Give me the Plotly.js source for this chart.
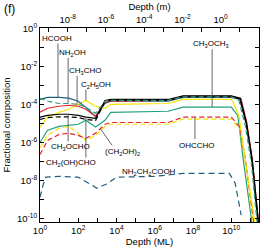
<!DOCTYPE html>
<html><head><meta charset="utf-8">
<script src="https://cdn.plot.ly/plotly-3.0.1.min.js"></script>
<style>html,body{margin:0;padding:0;background:#fff}#chart{width:266px;height:250px}</style>
</head><body><div id="chart"></div>
<script>
// Depth grid (monolayers) shared by the early part of every curve
const depthML = [1, 2.5, 10, 31.6, 100, 250, 800, 2500, 5000, 5e6, 3e7, 1e10];

const hcoohFrac   = [1.8e-4, 2.3e-4, 2.3e-4, 2.1e-4, 1.45e-4, 6.9e-5, 2.3e-5, 1.1e-4, 1.45e-4, 1.45e-4, 2.3e-4, 2.3e-4];
const hcoohTailML = [2.8e10, 6.3e10, 1.26e11, 2.6e11];
const hcoohTail   = [1.8e-4, 8e-6, 8e-8, 3e-11];

const nh2ohFrac   = [2.1e-4, 1.45e-4, 1.1e-4, 1.1e-4, 1e-4, 6.9e-5, 3.4e-5, 1.45e-4, 1.6e-4, 1.6e-4, 2.5e-4, 2.5e-4];
const nh2ohTailML = [2.5e10, 5.6e10, 1.12e11, 2.4e11];
const nh2ohTail   = [1.6e-4, 6.3e-6, 8e-8, 3e-11];

const ch3choFrac   = [3.8e-5, 6.2e-5, 7.9e-5, 8.9e-5, 7.9e-5, 5.5e-5, 2.3e-5, 1.26e-4, 1.45e-4, 1.6e-4, 2.6e-4, 2.6e-4];
const ch3choTailML = [3.2e10, 6.3e10, 1.26e11, 2.8e11];
const ch3choTail   = [2e-4, 1.25e-5, 1.25e-7, 4e-11];

const c2h5ohFrac   = [6.3e-6, 2.1e-5, 3.8e-5, 5.5e-5, 1e-4, 1.6e-4, 7.9e-5, 6.2e-5, 1e-4, 1.1e-4, 1.8e-4, 1.8e-4];
const c2h5ohTailML = [1.26e10, 2.5e10, 5.5e10, 1.8e11];
const c2h5ohTail   = [1.25e-4, 2.5e-5, 1.1e-7, 4e-11];

const ch3och3Frac   = [1e-6, 4.3e-6, 6.9e-6, 7.9e-6, 8.9e-6, 1.45e-5, 6.3e-6, 1.45e-5, 3.8e-5, 4.3e-5, 7.1e-5, 7.1e-5];
const ch3och3TailML = [2.2e10, 4.3e10, 1.26e11];
const ch3och3Tail   = [2.5e-5, 1.1e-7, 4e-11];

const ch3ochoFrac   = [2.1e-5, 2.6e-5, 3e-5, 3e-5, 2.6e-5, 2.1e-5, 1.8e-5, 1.6e-4, 1.8e-4, 1.8e-4, 2.8e-4, 2.8e-4];
const ch3ochoTailML = [2.95e10, 6.3e10, 1.26e11, 2.8e11];
const ch3ochoTail   = [2.1e-4, 1e-5, 1.1e-7, 3e-11];

const glycolFrac   = [1.6e-5, 2e-5, 2.2e-5, 2.2e-5, 2e-5, 1.6e-5, 1.4e-5, 1.4e-4, 1.6e-4, 1.6e-4, 2.5e-4, 2.5e-4];
const glycolTailML = [2.8e10, 6e10, 1.2e11, 2.7e11];
const glycolTail   = [1.9e-4, 1e-5, 1.1e-7, 3e-11];

const ethgFrac   = [2.3e-7, 1.26e-6, 2.6e-6, 3e-6, 2.3e-6, 1.6e-6, 3e-6, 8.9e-6, 1.1e-5, 1.1e-5, 2.1e-5, 2.1e-5];
const ethgTailML = [2.8e10, 5.6e10, 1.6e11];
const ethgTail   = [6.3e-6, 1.1e-7, 4e-11];

const ohcchoFrac   = [5e-7, 2.3e-6, 5.5e-6, 6.9e-6, 3e-6, 1.26e-6, 2.3e-6, 6.9e-6, 8.9e-6, 8.9e-6, 1.66e-5, 1.66e-5];
const ohcchoTailML = [2.8e10, 5.2e10, 1.5e11];
const ohcchoTail   = [5e-6, 1.1e-7, 4e-11];

const glyDepthML = [1, 1.4, 2, 10, 100, 300, 950, 3000, 1e4, 1e6, 3e7, 8e9, 1.6e10, 3.3e10];
const glyFrac    = [1.26e-9, 5e-9, 1.45e-8, 1.6e-8, 1.45e-8, 7.9e-9, 3.8e-9, 6.3e-9, 1.45e-8, 1.6e-8, 2.3e-8, 2.3e-8, 6.9e-9, 1.45e-10];

// Tick labels
const mlTickVals = [1,1e1,1e2,1e3,1e4,1e5,1e6,1e7,1e8,1e9,1e10,1e11];
const mlTickText = ['10<sup>0</sup>','','10<sup>2</sup>','','10<sup>4</sup>','','10<sup>6</sup>','','10<sup>8</sup>','','10<sup>10</sup>',''];
const mTickVals = [1e-9,1e-8,1e-7,1e-6,1e-5,1e-4,1e-3,1e-2,1e-1,1,1e1,1e2];
const mTickText = ['','10<sup>-8</sup>','','10<sup>-6</sup>','','10<sup>-4</sup>','','10<sup>-2</sup>','','10<sup>0</sup>','','10<sup>2</sup>'];
const fracTickVals = [1e-10,1e-9,1e-8,1e-7,1e-6,1e-5,1e-4,1e-3,1e-2,1e-1,1];
const fracTickText = ['10<sup>-10</sup>','','10<sup>-8</sup>','','10<sup>-6</sup>','','10<sup>-4</sup>','','10<sup>-2</sup>','','10<sup>0</sup>'];

const BLACK='#000000', RED='#e3242b', GREEN='#21a27a', YELLOW='#f2e400', BLUE='#1f5f7e';
const W = 1.2, DASH = '5px,3px';

function tr(name, frac, tailML, tail, color, dash){
  return {x: depthML.concat(tailML), y: frac.concat(tail), name: name, mode:'lines',
          line:{color:color, width:W, dash:dash}, hoverinfo:'skip'};
}
const traces = [
  tr('CH3OCH3', ch3och3Frac, ch3och3TailML, ch3och3Tail, GREEN, 'solid'),
  tr('OHCCHO', ohcchoFrac, ohcchoTailML, ohcchoTail, YELLOW, DASH),
  tr('(CH2OH)2', ethgFrac, ethgTailML, ethgTail, RED, DASH),
  tr('C2H5OH', c2h5ohFrac, c2h5ohTailML, c2h5ohTail, YELLOW, 'solid'),
  tr('HCOOH', hcoohFrac, hcoohTailML, hcoohTail, BLUE, 'solid'),
  tr('CH3CHO', ch3choFrac, ch3choTailML, ch3choTail, RED, 'solid'),
  tr('CH3OCHO', ch3ochoFrac, ch3ochoTailML, ch3ochoTail, BLACK, 'solid'),
  tr('CH2(OH)CHO', glycolFrac, glycolTailML, glycolTail, BLACK, DASH),
  tr('NH2OH', nh2ohFrac, nh2ohTailML, nh2ohTail, GREEN, DASH),
  {x: glyDepthML, y: glyFrac, name:'NH2CH2COOH', mode:'lines', line:{color:BLUE, width:W, dash:'6px,4px'}, hoverinfo:'skip'},
  {x: [], y: [], xaxis:'x2', yaxis:'y', mode:'lines', showlegend:false, hoverinfo:'skip'}
];

const F = 'Liberation Sans, Arial, Helvetica, sans-serif';
const lbl = (text, x, y) => ({text:text, x:x, y:y, xref:'x', yref:'y', showarrow:false,
  font:{family:F, size:8, color:'#000'}, xanchor:'center', yanchor:'middle'});
const annotations = [
  lbl('HCOOH', 0.89, -0.53),
  lbl('NH<sub>2</sub>OH', 1.68, -1.32),
  lbl('CH<sub>3</sub>CHO', 2.36, -2.26),
  lbl('C<sub>2</sub>H<sub>5</sub>OH', 2.93, -3.0),
  lbl('CH<sub>3</sub>OCH<sub>3</sub>', 8.95, -0.84),
  lbl('CH<sub>3</sub>OCHO', 1.62, -6.26),
  lbl('CH<sub>2</sub>(OH)CHO', 1.62, -7.1),
  lbl('(CH<sub>2</sub>OH)<sub>2</sub>', 4.29, -6.53),
  lbl('OHCCHO', 8.22, -6.16),
  lbl('NH<sub>2</sub>CH<sub>2</sub>COOH', 5.7, -7.58),
  {text:'(f)', xref:'paper', yref:'paper', x:-0.175, y:1.098, xanchor:'left', yanchor:'middle', showarrow:false, font:{family:F, size:12, color:'#000'}}
];
// leader lines (data values: depth in ML, fractional composition)
const seg = (x0,y0,x1,y1) => ({type:'line', xref:'x', yref:'y', x0:x0, y0:y0, x1:x1, y1:y1, line:{color:'#555', width:0.9}});
const shapes = [
  seg(8.7, 0.162, 8.7, 2.34e-4),
  seg(29.5, 0.0282, 29.5, 1.12e-4),
  seg(87, 3.16e-3, 87, 8.9e-5),
  seg(251, 6.0e-4, 251, 1.62e-4),
  seg(1e9, 0.0794, 1e9, 7.1e-5),
  seg(29.5, 1.12e-6, 29.5, 2.95e-5),
  seg(251, 1.58e-7, 251, 2.09e-5),
  seg(5900, 6.9e-7, 1380, 5.5e-6),
  seg(1.26e8, 1.45e-6, 1.26e8, 2e-5)
];

const axBase = {type:'log', ticks:'inside', ticklen:4, tickwidth:1, tickcolor:'#000',
  showline:true, linecolor:'#000', linewidth:1, showgrid:false, zeroline:false,
  tickfont:{family:F, size:9.5, color:'#000'}, tickmode:'array'};

const layout = {
  width:266, height:250, margin:{l:40, r:7, t:28, b:28}, showlegend:false,
  paper_bgcolor:'#fff', plot_bgcolor:'#fff', font:{family:F, color:'#000'},
  xaxis: Object.assign({}, axBase, {range:[0, 11.45], tickvals:mlTickVals, ticktext:mlTickText,
    title:{text:'Depth (ML)', font:{family:F, size:9.5}, standoff:2}}),
  xaxis2: Object.assign({}, axBase, {range:[-9.45, 2.005], tickvals:mTickVals, ticktext:mTickText,
    overlaying:'x', side:'top', anchor:'y',
    title:{text:'Depth (m)', font:{family:F, size:9.5}, standoff:0}}),
  yaxis: Object.assign({}, axBase, {range:[-10.2, 0.02], tickvals:fracTickVals, ticktext:fracTickText, mirror:'ticks',
    title:{text:'Fractional composition', font:{family:F, size:9.5}, standoff:4}}),
  annotations: annotations, shapes: shapes
};
Plotly.newPlot('chart', traces, layout, {displayModeBar:false, staticPlot:true});
</script></body></html>
